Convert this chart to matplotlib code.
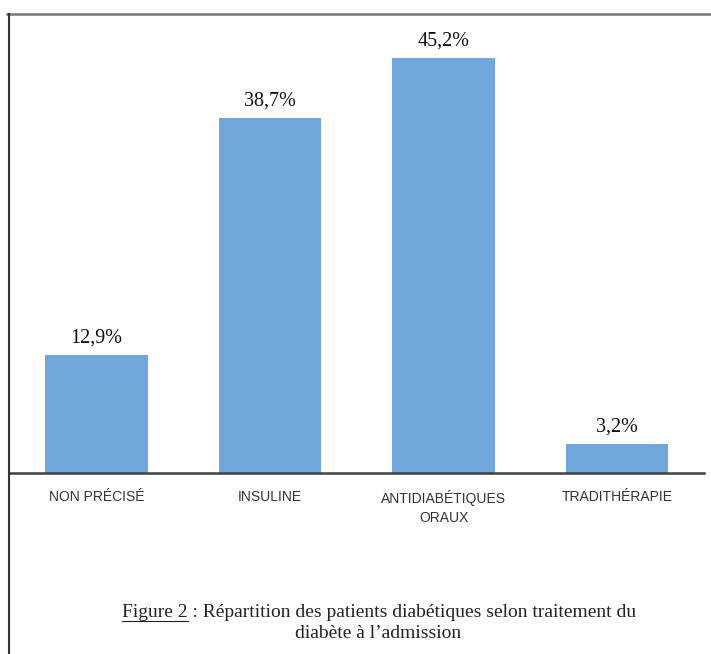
import numpy as np
import matplotlib
matplotlib.use('Agg')
import matplotlib.pyplot as plt
from matplotlib.lines import Line2D

categories = ['NON PRÉCISÉ', 'INSULINE', 'ANTIDIABÉTIQUES\nORAUX', 'TRADITHÉRAPIE']
values = [12.9, 38.7, 45.2, 3.2]
value_labels = ['12,9%', '38,7%', '45,2%', '3,2%']
caption1 = 'Figure 2 : Répartition des patients diabétiques selon traitement du'
caption2 = 'diabète à l\u2019admission'

W, H = 711, 654
fig = plt.figure(figsize=(W / 100, H / 100), dpi=100)
ax = fig.add_axes([9.5 / W, (H - 473) / H, (704 - 9.5) / W, (473 - 14) / H])

serif = ['Liberation Serif', 'DejaVu Serif']
x = np.arange(len(categories))
bars = ax.bar(x, values, width=0.59, color='#70a6da', zorder=2)
for b, lab in zip(bars, value_labels):
    ax.annotate(lab, (b.get_x() + b.get_width() / 2, b.get_height()),
                xytext=(0, 9), textcoords='offset points', ha='center', va='baseline',
                fontsize=14.5, family=serif, color='#111111')

ax.set_xlim(-0.5, 3.5)
ax.set_ylim(0, 50)
ax.set_xticks(x)
ax.set_xticklabels(categories, fontsize=10, family=['Liberation Sans Narrow', 'Liberation Sans', 'DejaVu Sans'],
                   color='#333333', linespacing=1.5)
ax.tick_params(axis='x', length=0, pad=12)
ax.set_yticks([])
for s in ['top', 'right', 'left']:
    ax.spines[s].set_visible(False)
ax.spines['bottom'].set_color('#404040')
ax.spines['bottom'].set_linewidth(1.8)

# frame around the figure
fig.add_artist(Line2D([7 / W, 1], [(H - 14) / H] * 2, color='#777777', lw=1.8, transform=fig.transFigure))
fig.add_artist(Line2D([9 / W] * 2, [0, (H - 14) / H], color='#333333', lw=1.5, transform=fig.transFigure))

t1 = fig.text(379 / W, (H - 617) / H, caption1, ha='center', va='baseline', fontsize=14, family=serif, color='#222222')
fig.text(378 / W, (H - 638) / H, caption2, ha='center', va='baseline', fontsize=14, family=serif, color='#222222')

# underline "Figure 2"
r = fig.canvas.get_renderer()
bb = t1.get_window_extent(r)
tmp = fig.text(0, 0, 'Figure 2', fontsize=14, family=serif)
w = tmp.get_window_extent(r).width
tmp.remove()
uy = H - 621
fig.add_artist(Line2D([bb.x0 / W, (bb.x0 + w) / W], [uy / H, uy / H], color='#222222', lw=0.8,
                      transform=fig.transFigure))

fig.savefig('out.png', dpi=100)
